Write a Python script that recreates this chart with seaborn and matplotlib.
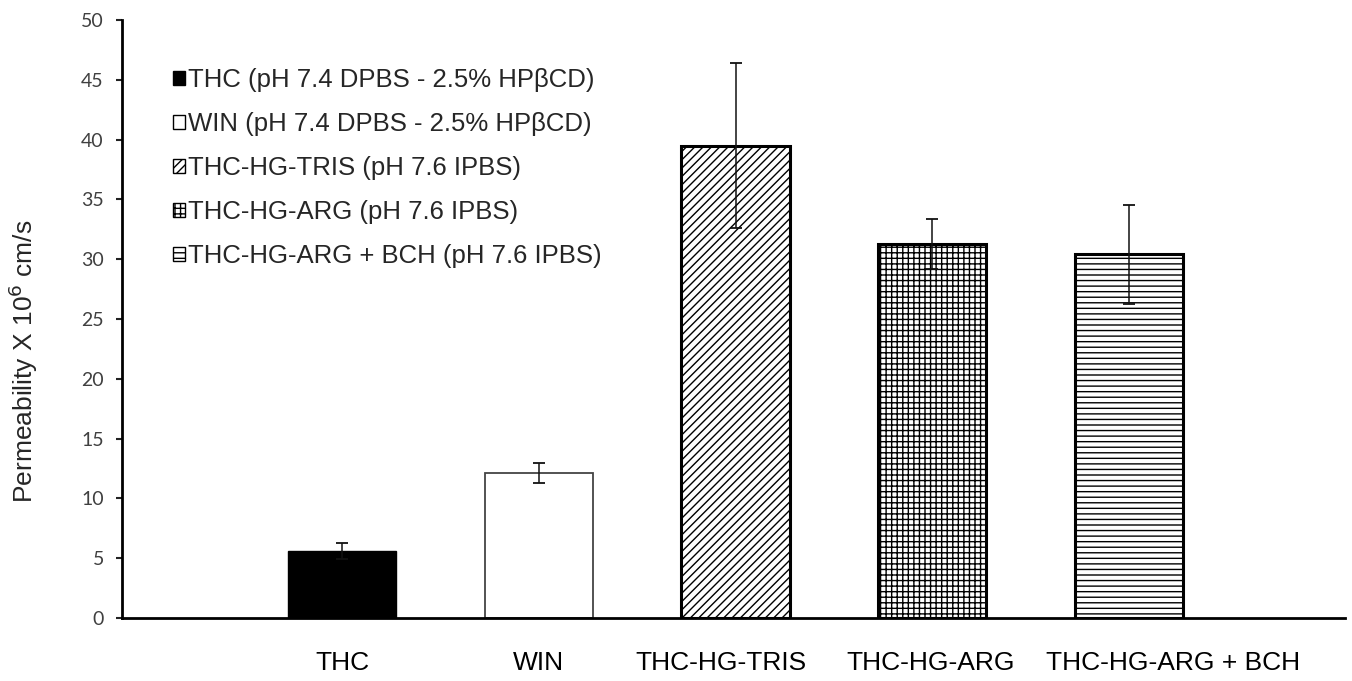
import seaborn as sns
import matplotlib.pyplot as plt
from matplotlib.patches import Patch
from matplotlib.transforms import ScaledTranslation

categories = ['THC', 'WIN', 'THC-HG-TRIS', 'THC-HG-ARG', 'THC-HG-ARG + BCH']
legend_labels = ['THC (pH 7.4 DPBS - 2.5% HP\u03b2CD)',
                 'WIN (pH 7.4 DPBS - 2.5% HP\u03b2CD)',
                 'THC-HG-TRIS (pH 7.6 IPBS)',
                 'THC-HG-ARG (pH 7.6 IPBS)',
                 'THC-HG-ARG + BCH (pH 7.6 IPBS)']
permeability = [5.6, 12.1, 39.5, 31.3, 30.4]
errors = [0.7, 0.85, 6.9, 2.1, 4.1]

face_colors = ['black', 'white', 'white', 'white', 'white']
hatches = ['', '', '////', '+++', '---']
edge_colors = ['black', '#444444', 'black', 'black', 'black']
edge_widths = [1.0, 1.3, 2.2, 2.2, 2.2]
# the category labels in the original sit a little off their bars (pixels)
label_shift = [0, 0, -15, -2, 44]

sns.set_theme(style='white')
plt.rcParams['font.family'] = ['Liberation Sans', 'DejaVu Sans']
plt.rcParams['hatch.linewidth'] = 1.0

fig = plt.figure(figsize=(13.52, 6.81), dpi=100)
ax = fig.add_axes([0.0902, 0.0925, 0.9046, 0.878])

sns.barplot(x=categories, y=permeability, hue=categories, palette=face_colors,
            width=0.55, legend=False, ax=ax, saturation=1)

for bar, h, ec, lw in zip(ax.patches, hatches, edge_colors, edge_widths):
    bar.set_hatch(h)
    bar.set_edgecolor(ec)
    bar.set_linewidth(lw)

ax.errorbar(range(len(categories)), permeability, yerr=errors, fmt='none',
            ecolor='#111111', elinewidth=1.1, capsize=4.5, capthick=1.3, zorder=5)

ax.set_xlim(-1.118, 5.097)
ax.set_ylim(0, 50)
ax.set_yticks(range(0, 51, 5))
ax.tick_params(axis='y', labelsize=14, length=4, width=1.5, direction='out',
               left=True, colors='#222222', labelcolor='#404040', pad=9)
ax.tick_params(axis='x', labelsize=19, length=0, pad=24, labelcolor='black')
for lab in ax.get_yticklabels():
    lab.set_family(['Lato', 'DejaVu Sans'])
for lab, dx in zip(ax.get_xticklabels(), label_shift):
    lab.set_transform(lab.get_transform() + ScaledTranslation(dx / 100, 0, fig.dpi_scale_trans))

ax.set_ylabel('Permeability X 10$^{6}$ cm/s', fontsize=19)
ax.yaxis.label.set_va('center')
ax.yaxis.set_label_coords(-0.081, 0.43)

sns.despine(ax=ax)
ax.spines['left'].set_linewidth(2)
ax.spines['bottom'].set_linewidth(2)
ax.spines['left'].set_color('black')
ax.spines['bottom'].set_color('black')

handles = [Patch(facecolor=fc, edgecolor='black', hatch=h, linewidth=1.0)
           for fc, h in zip(face_colors, hatches)]
ax.legend(handles, legend_labels, loc='upper left', bbox_to_anchor=(0.128, 0.90),
          bbox_transform=fig.transFigure, frameon=False, fontsize=18.5,
          handlelength=0.45, handleheight=0.45, handletextpad=0.15,
          labelspacing=0.78, borderaxespad=0, borderpad=0)

fig.savefig('out.png', dpi=100)
